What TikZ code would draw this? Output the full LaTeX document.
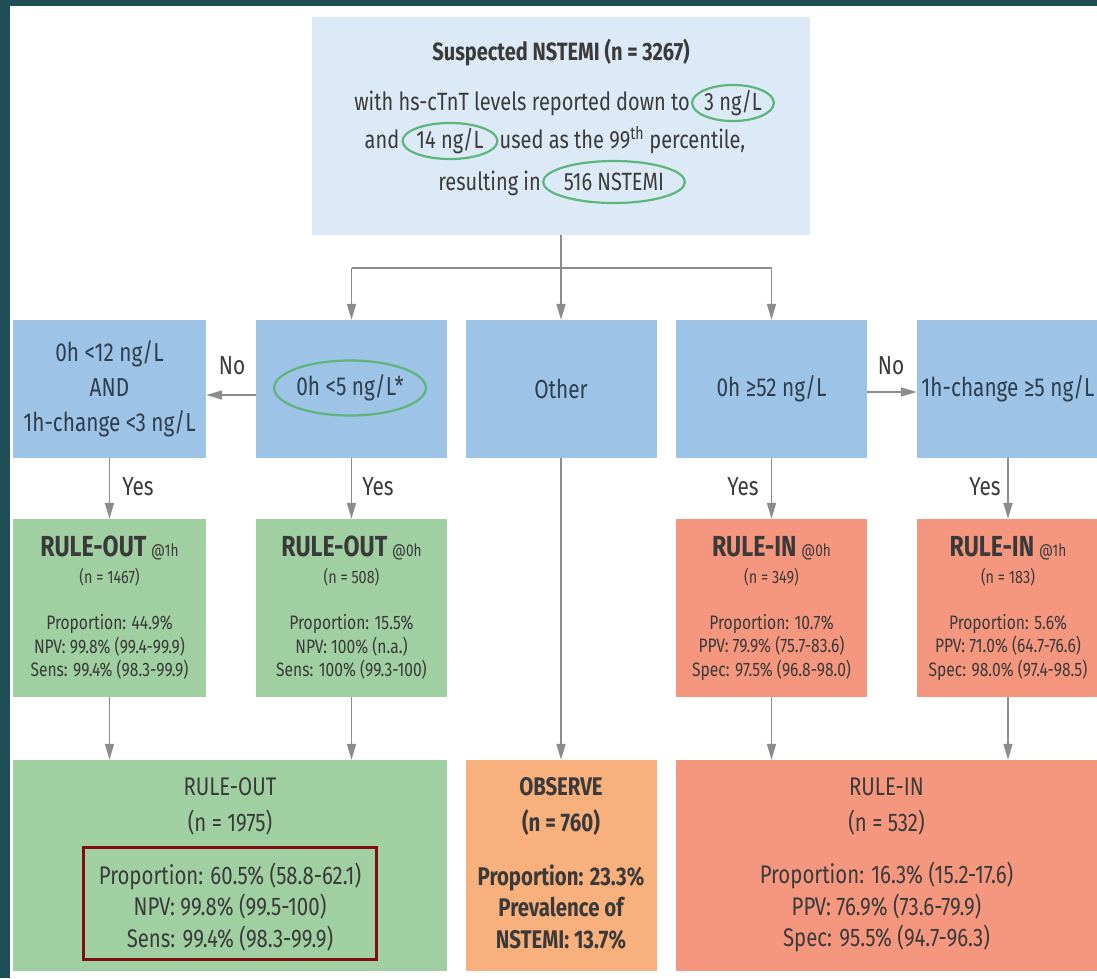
\documentclass[tikz,border=0pt]{standalone}
\usepackage{fontspec}
\setmainfont{Fira Sans}[FakeStretch=0.8]
\usetikzlibrary{arrows.meta,shapes.geometric}

\definecolor{frame}{HTML}{1F4E56}
\definecolor{paleblue}{HTML}{DCE9F6}
\definecolor{midblue}{HTML}{9DC3E6}
\definecolor{outgreen}{HTML}{A0CFA1}
\definecolor{insalmon}{HTML}{F4977E}
\definecolor{obsorange}{HTML}{F8B07C}
\definecolor{ovalgreen}{HTML}{5DB57C}
\definecolor{boxred}{HTML}{7F0E0E}
\definecolor{arrowgray}{HTML}{8C8C8C}
\definecolor{ink}{HTML}{3A3A3A}
\definecolor{blueink}{HTML}{2F3E4E}

% font sizes used in the chart
\newcommand\fsTop{\fontsize{25}{30}\selectfont}
\newcommand\fsRow{\fontsize{26}{35}\selectfont}
\newcommand\fsTitle{\fontsize{29}{32}\selectfont\bfseries}
\newcommand\fsTag{\fontsize{17}{19}\selectfont\mdseries}
\newcommand\fsSmall{\fontsize{18}{21}\selectfont}
\newcommand\fsStat{\fontsize{19.5}{23.5}\selectfont}
\newcommand\fsBig{\fontsize{25.5}{31.5}\selectfont}

\begin{document}
\begin{tikzpicture}[x=1pt,y=-1pt,
  box/.style={rectangle, draw=none, inner sep=0pt},
  txt/.style={inner sep=0pt, text=ink, align=center},
  btxt/.style={txt, text=blueink, font=\fsRow},
  arr/.style={draw=arrowgray, line width=1.6pt, -{Triangle[length=16pt,width=9pt]}},
  link/.style={draw=arrowgray, line width=1.6pt},
  oval/.style={ellipse, draw=ovalgreen, line width=2.2pt, inner sep=0pt},
]
% frame and page
\fill[frame] (0,0) rectangle (1097,978);
\fill[white] (10,6) rectangle (1097,978);
\useasboundingbox (0,0) rectangle (1097,978);

% ---- boxes ----
\node[box, fill=paleblue, minimum width=498pt, minimum height=218pt] (top) at (561,126) {};

\node[box, fill=midblue, minimum width=193pt, minimum height=138pt] (a2) at (109.5,389) {};
\node[box, fill=midblue, minimum width=191pt, minimum height=138pt] (b2) at (351.5,389) {};
\node[box, fill=midblue, minimum width=191pt, minimum height=138pt] (c2) at (561,389) {};
\node[box, fill=midblue, minimum width=191pt, minimum height=138pt] (d2) at (771.5,389) {};
\node[box, fill=midblue, minimum width=182pt, minimum height=138pt] (e2) at (1008,389) {};

\node[box, fill=outgreen, minimum width=193pt, minimum height=178pt] (a3) at (109.5,608) {};
\node[box, fill=outgreen, minimum width=191pt, minimum height=178pt] (b3) at (351.5,608) {};
\node[box, fill=insalmon, minimum width=191pt, minimum height=178pt] (d3) at (771.5,608) {};
\node[box, fill=insalmon, minimum width=182pt, minimum height=178pt] (e3) at (1008,608) {};

\node[box, fill=outgreen, minimum width=434pt, minimum height=211pt] (out4) at (230,865.5) {};
\node[box, fill=obsorange, minimum width=191pt, minimum height=211pt] (obs4) at (561,865.5) {};
\node[box, fill=insalmon, minimum width=421pt, minimum height=211pt] (in4) at (886.5,865.5) {};

% ---- top box text ----
\node[txt, font=\fsTop\bfseries] (t1) at (561,53) {Suspected NSTEMI (n = 3267)};
\node[oval, minimum width=73pt, minimum height=36pt, font=\fsTop, text=ink] (o3) at (733,103) {3 ng/L};
\node[txt, font=\fsTop, anchor=base east] (t2) at ([xshift=-1pt]o3.west |- o3.base) {with hs-cTnT levels reported down to};
\node[oval, minimum width=82pt, minimum height=34pt, font=\fsTop, text=ink] (o14) at (450,141) {14 ng/L};
\node[txt, font=\fsTop, anchor=base east] (t3a) at ([xshift=-2pt]o14.west |- o14.base) {and};
\node[txt, font=\fsTop, anchor=base west] (t3b) at ([xshift=1pt]o14.east |- o14.base) {used as the 99\textsuperscript{th} percentile,};
\node[oval, minimum width=118pt, minimum height=42pt, font=\fsTop, text=ink] (o516) at (614,182) {516 NSTEMI};
\node[txt, font=\fsTop, anchor=base east] (t4) at ([xshift=-1pt]o516.west |- o516.base) {resulting in};

% ---- decision boxes text ----
\node[btxt] (a2t) at (109.5,389) {0h <12 ng/L\\AND\\1h-change <3 ng/L};
\node[oval, minimum width=132pt, minimum height=55pt, font=\fsRow, text=blueink] (b2t) at (350,388) {0h <5 ng/L*};
\node[btxt] (c2t) at (561,389) {Other};
\node[btxt] (d2t) at (771.5,389) {0h ≥52 ng/L};
\node[btxt] (e2t) at (1008,389) {1h-change ≥5 ng/L};

% ---- connectors from the top box ----
\coordinate (fork) at (561,268);
\draw[link] (b2.north |- fork) -- (d2.north |- fork);
\draw[arr] (top.south) -- (c2.north);
\draw[arr] (b2.north |- fork) -- (b2.north);
\draw[arr] (d2.north |- fork) -- (d2.north);

% ---- No branches ----
\draw[arr] ([yshift=-6pt]b2.west) -- ([yshift=-6pt]a2.east);
\node[btxt, text=ink] (no1) at (232,366) {No};
\draw[arr] ([yshift=-3pt]d2.east) -- ([yshift=-3pt]e2.west);
\node[btxt, text=ink] (no2) at (891,366) {No};

% ---- Yes branches ----
\draw[arr] (a2.south) -- (a3.north);
\node[btxt, text=ink] (y1) at (138,487) {Yes};
\draw[arr] (b2.south) -- (b3.north);
\node[btxt, text=ink] (y2) at (378,487) {Yes};
\draw[arr] (d2.south) -- (d3.north);
\node[btxt, text=ink] (y3) at (743,487) {Yes};
\draw[arr] (e2.south) -- (e3.north);
\node[btxt, text=ink] (y4) at (985,487) {Yes};

% ---- intermediate results ----
\node[txt] (a3h) at (109.5,548) {\fsTitle RULE-OUT\,\fsTag @1h};
\node[txt, font=\fsSmall] (a3n) at (109.5,577) {(n = 1467)};
\node[txt, font=\fsStat] (a3s) at (109.5,647) {Proportion: 44.9\%\\NPV: 99.8\% (99.4-99.9)\\Sens: 99.4\% (98.3-99.9)};

\node[txt] (b3h) at (351.5,548) {\fsTitle RULE-OUT\,\fsTag @0h};
\node[txt, font=\fsSmall] (b3n) at (351.5,577) {(n = 508)};
\node[txt, font=\fsStat] (b3s) at (351.5,647) {Proportion: 15.5\%\\NPV: 100\% (n.a.)\\Sens: 100\% (99.3-100)};

\node[txt] (d3h) at (771.5,548) {\fsTitle RULE-IN\,\fsTag @0h};
\node[txt, font=\fsSmall] (d3n) at (771.5,577) {(n = 349)};
\node[txt, font=\fsStat] (d3s) at (771.5,647) {Proportion: 10.7\%\\PPV: 79.9\% (75.7-83.6)\\Spec: 97.5\% (96.8-98.0)};

\node[txt] (e3h) at (1008,548) {\fsTitle RULE-IN\,\fsTag @1h};
\node[txt, font=\fsSmall] (e3n) at (1008,577) {(n = 183)};
\node[txt, font=\fsStat] (e3s) at (1008,647) {Proportion: 5.6\%\\PPV: 71.0\% (64.7-76.6)\\Spec: 98.0\% (97.4-98.5)};

% ---- into the final groups ----
\draw[arr] (a3.south) -- (a3.south |- out4.north);
\draw[arr] (b3.south) -- (b3.south |- out4.north);
\draw[arr] (c2.south) -- (obs4.north);
\draw[arr] (d3.south) -- (d3.south |- in4.north);
\draw[arr] (e3.south) -- (e3.south |- in4.north);

% ---- final groups ----
\node[txt, font=\fsBig] (o4h) at (230,787) {RULE-OUT};
\node[txt, font=\fsBig] (o4n) at (230,823) {(n = 1975)};
\node[txt, font=\fsBig] (o4s) at (230,907) {Proportion: 60.5\% (58.8-62.1)\\NPV: 99.8\% (99.5-100)\\Sens: 99.4\% (98.3-99.9)};
\node[box, draw=boxred, line width=3pt, minimum width=293pt, minimum height=112pt] (hl) at (229.5,903) {};

\node[txt, font=\fsBig\bfseries] (b4h) at (561,787) {OBSERVE};
\node[txt, font=\fsBig\bfseries] (b4n) at (561,823) {(n = 760)};
\node[txt, font=\fsBig\bfseries] (b4s) at (561,907) {Proportion: 23.3\%\\Prevalence of\\NSTEMI: 13.7\%};

\node[txt, font=\fsBig] (i4h) at (886.5,787) {RULE-IN};
\node[txt, font=\fsBig] (i4n) at (886.5,823) {(n = 532)};
\node[txt, font=\fsBig] (i4s) at (886.5,907) {Proportion: 16.3\% (15.2-17.6)\\PPV: 76.9\% (73.6-79.9)\\Spec: 95.5\% (94.7-96.3)};
\end{tikzpicture}
\end{document}
